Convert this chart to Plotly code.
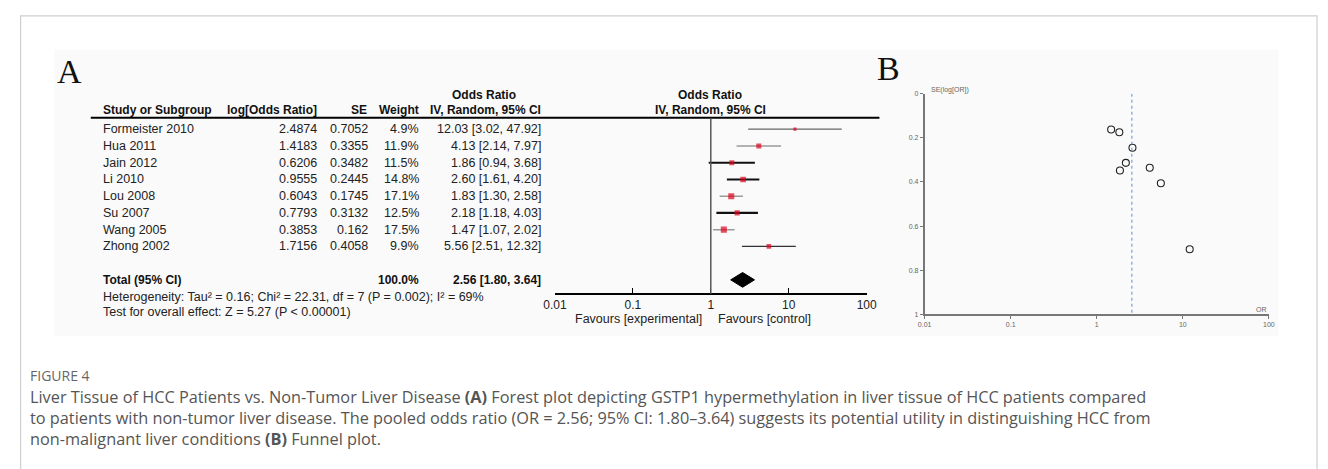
import plotly.graph_objects as go

# ---------------- data ----------------
studies = ["Formeister 2010", "Hua 2011", "Jain 2012", "Li 2010", "Lou 2008",
           "Su 2007", "Wang 2005", "Zhong 2002"]
log_or = ["2.4874", "1.4183", "0.6206", "0.9555", "0.6043", "0.7793", "0.3853", "1.7156"]
se = [0.7052, 0.3355, 0.3482, 0.2445, 0.1745, 0.3132, 0.162, 0.4058]
se_text = ["0.7052", "0.3355", "0.3482", "0.2445", "0.1745", "0.3132", "0.162", "0.4058"]
weights = [4.9, 11.9, 11.5, 14.8, 17.1, 12.5, 17.5, 9.9]
or_est = [12.03, 4.13, 1.86, 2.60, 1.83, 2.18, 1.47, 5.56]
ci_lo = [3.02, 2.14, 0.94, 1.61, 1.30, 1.18, 1.07, 2.51]
ci_hi = [47.92, 7.97, 3.68, 4.20, 2.58, 4.03, 2.02, 12.32]
total_or, total_lo, total_hi, total_w = 2.56, 1.80, 3.64, 100.0
axis_ticks = [0.01, 0.1, 1, 10, 100]
axis_ticktext = ["0.01", "0.1", "1", "10", "100"]
funnel_yticks = [0, 0.2, 0.4, 0.6, 0.8, 1]
funnel_yticktext = ["0", "0.2", "0.4", "0.6", "0.8", "1"]
heterogeneity = "Heterogeneity: Tau² = 0.16; Chi² = 22.31, df = 7 (P = 0.002); I² = 69%"
overall = "Test for overall effect: Z = 5.27 (P < 0.00001)"
caption_title = "FIGURE 4"
caption_lines = [
    "Liver Tissue of HCC Patients vs. Non-Tumor Liver Disease <b>(A)</b> Forest plot depicting GSTP1 hypermethylation in liver tissue of HCC patients compared",
    "to patients with non-tumor liver disease. The pooled odds ratio (OR = 2.56; 95% CI: 1.80–3.64) suggests its potential utility in distinguishing HCC from",
    "non-malignant liver conditions <b>(B)</b> Funnel plot.",
]

# styling (not data)
ci_colors = ["#666666", "#9a9a9a", "#111111", "#111111", "#9a9a9a", "#111111", "#9a9a9a", "#333333"]
ci_widths = [1.3, 1.5, 2, 2, 1.5, 2.2, 1.5, 1.3]

# the page has an 8px body margin: positions below are screenshot pixels
OFF = 8
W, H = 1328 - OFF, 469 - OFF
def px(x): return (x - OFF) / W
def py(y): return 1 - (y - OFF) / H

ROW0, ROWH = 127, 17
def row_of(ypix): return (ypix - ROW0) / ROWH

fig = go.Figure()

# ---------------- forest plot ----------------
for i in range(len(studies)):
    fig.add_trace(go.Scatter(x=[ci_lo[i], ci_hi[i]], y=[i, i], mode="lines",
                             line=dict(color=ci_colors[i], width=ci_widths[i]),
                             xaxis="x", yaxis="y", showlegend=False, hoverinfo="skip"))
fig.add_trace(go.Scatter(x=or_est, y=list(range(len(studies))), mode="markers",
                         marker=dict(symbol="square", color="#e0001b",
                                     size=[1.45 * w ** 0.5 for w in weights], line=dict(width=0)),
                         xaxis="x", yaxis="y", showlegend=False))
tr = len(studies) + 1
hh = 0.44
fig.add_trace(go.Scatter(x=[total_lo, total_or, total_hi, total_or, total_lo],
                         y=[tr, tr - hh, tr, tr + hh, tr], mode="lines", fill="toself",
                         fillcolor="black", line=dict(color="black", width=1),
                         xaxis="x", yaxis="y", showlegend=False))

# ---------------- funnel plot ----------------
fig.add_trace(go.Scatter(x=or_est, y=se, mode="markers",
                         marker=dict(symbol="circle-open", size=7, color="#222",
                                     line=dict(width=1.1, color="#222")),
                         xaxis="x2", yaxis="y2", showlegend=False))
fig.add_trace(go.Scatter(x=[total_or, total_or], y=[0, 1], mode="lines",
                         line=dict(color="#5b8fd6", width=1, dash="dot"),
                         xaxis="x2", yaxis="y2", showlegend=False))

shapes = []
shapes.append(dict(type="path", xref="paper", yref="paper",
                   path=f"M {px(8.6)} {py(480)} L {px(8.6)} {py(12)} L {px(1327)} {py(12)} L {px(1327)} {py(480)}",
                   line=dict(color="#cfcfcf", width=1.2)))
shapes.append(dict(type="rect", xref="paper", yref="paper", x0=px(43), x1=px(1288),
                   y0=py(337), y1=py(46), fillcolor="#fafafa", line=dict(width=0), layer="below"))
shapes.append(dict(type="line", xref="paper", yref="paper", x0=px(80), x1=px(882),
                   y0=py(115.5), y1=py(115.5), line=dict(color="black", width=2)))
shapes.append(dict(type="line", xref="x", yref="paper", x0=1, x1=1,
                   y0=py(294), y1=py(116), line=dict(color="#555", width=1.5)))

ann = []
tfont = dict(family="Liberation Sans, Arial", size=12.5, color="#222")
bfont = dict(family="Liberation Sans, Arial", size=12, color="#111")

def text(x, y, s, anchor="left", font=tfont, bold=False):
    ann.append(dict(x=px(x), y=y, xref="paper", yref="y", text=f"<b>{s}</b>" if bold else s,
                    showarrow=False, xanchor=anchor, yanchor="middle", font=font))

text(480, row_of(92), "Odds Ratio", "center", bfont, True)
text(710, row_of(92), "Odds Ratio", "center", bfont, True)
text(90, row_of(107), "Study or Subgroup", "left", bfont, True)
text(312, row_of(107), "log[Odds Ratio]", "right", bfont, True)
text(363, row_of(107), "SE", "right", bfont, True)
text(416, row_of(107), "Weight", "right", bfont, True)
text(540, row_of(107), "IV, Random, 95% CI", "right", bfont, True)
text(710, row_of(107), "IV, Random, 95% CI", "center", bfont, True)

for i, s in enumerate(studies):
    text(90, i, s)
    text(312, i, log_or[i], "right")
    text(364, i, se_text[i], "right")
    text(416, i, f"{weights[i]:.1f}%", "right")
    text(540, i, f"{or_est[i]:.2f} [{ci_lo[i]:.2f}, {ci_hi[i]:.2f}]", "right")

text(90, tr, "Total (95% CI)", "left", bfont, True)
text(416, tr, f"{total_w:.1f}%", "right", bfont, True)
text(540, tr, f"{total_or:.2f} [{total_lo:.2f}, {total_hi:.2f}]", "right", bfont, True)
text(90, row_of(297), heterogeneity)
text(90, row_of(313), overall)
text(704, row_of(320), "Favours [experimental]", "right")
text(716, row_of(320), "Favours [control]", "left")

ann.append(dict(x=px(44), y=py(68), xref="paper", yref="paper", text="A", showarrow=False,
                xanchor="left", yanchor="middle", font=dict(family="Liberation Serif", size=34, color="#111")))
ann.append(dict(x=px(877), y=py(65), xref="paper", yref="paper", text="B", showarrow=False,
                xanchor="left", yanchor="middle", font=dict(family="Liberation Serif", size=34, color="#111")))
sfont = dict(family="Liberation Sans, Arial", size=7, color="#666")
ann.append(dict(x=px(932), y=py(87), xref="paper", yref="paper", text="SE(log[OR])", showarrow=False,
                xanchor="left", yanchor="middle", font=sfont))
ann.append(dict(x=px(1278), y=py(310), xref="paper", yref="paper", text="OR", showarrow=False,
                xanchor="right", yanchor="middle", font=sfont))

# caption
ann.append(dict(x=px(16), y=py(377), xref="paper", yref="paper", text=caption_title, showarrow=False,
                xanchor="left", yanchor="middle", font=dict(family="Open Sans", size=14, color="#666")))
ann.append(dict(x=px(16), y=py(420), xref="paper", yref="paper", text="<br>".join(caption_lines),
                showarrow=False, xanchor="left", yanchor="middle", align="left",
                font=dict(family="Open Sans", size=16.3, color="#555")))

fig.update_layout(
    width=W, height=H, margin=dict(l=0, r=0, t=0, b=0),
    paper_bgcolor="white", plot_bgcolor="rgba(0,0,0,0)",
    shapes=shapes, annotations=ann, showlegend=False,
    xaxis=dict(type="log", domain=[px(552), px(869)], range=[-2, 2], anchor="free",
               position=py(294), showline=True, linecolor="black", linewidth=1.5,
               ticks="inside", ticklen=5, tickcolor="black", tickwidth=1.2, tickvals=axis_ticks,
               ticktext=axis_ticktext, showgrid=False, zeroline=False,
               tickfont=dict(family="Liberation Sans, Arial", size=12, color="#222")),
    yaxis=dict(domain=[0, 1], range=[row_of(OFF + H), row_of(OFF)], visible=False, showgrid=False),
    xaxis2=dict(type="log", domain=[px(928), px(1278)], range=[-2, 2], anchor="y2",
                showline=True, linecolor="#777", linewidth=1.5, ticks="outside", ticklen=3,
                tickcolor="#777", tickvals=axis_ticks, ticktext=axis_ticktext, showgrid=False,
                zeroline=False, tickfont=sfont),
    yaxis2=dict(domain=[py(315), py(91)], range=[1, 0], anchor="x2", showline=True,
                linecolor="#777", linewidth=1.5, ticks="outside", ticklen=3, tickcolor="#777",
                tickvals=funnel_yticks, ticktext=funnel_yticktext, showgrid=False,
                zeroline=False, tickfont=sfont),
)

fig.write_html("out.html")
